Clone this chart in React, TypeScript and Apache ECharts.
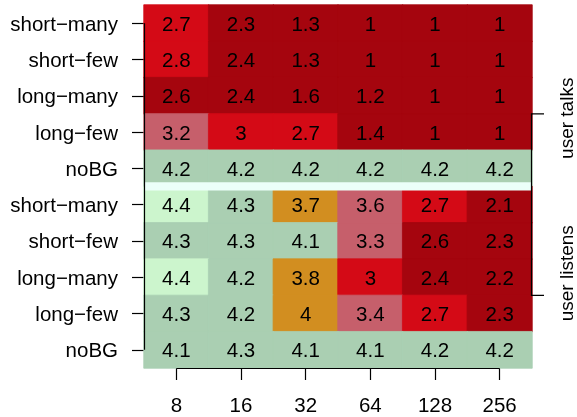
import React, { useEffect, useRef } from "react";
import * as echarts from "echarts";

const xCategories = ["8", "16", "32", "64", "128", "256"];
const yCategories = [
  "short−many", "short−few", "long−many", "long−few", "noBG",
  "short−many", "short−few", "long−many", "long−few", "noBG",
];

// user talks
const talksShortMany = [2.7, 2.3, 1.3, 1, 1, 1];
const talksShortFew = [2.8, 2.4, 1.3, 1, 1, 1];
const talksLongMany = [2.6, 2.4, 1.6, 1.2, 1, 1];
const talksLongFew = [3.2, 3, 2.7, 1.4, 1, 1];
const talksNoBG = [4.2, 4.2, 4.2, 4.2, 4.2, 4.2];
// user listens
const listensShortMany = [4.4, 4.3, 3.7, 3.6, 2.7, 2.1];
const listensShortFew = [4.3, 4.3, 4.1, 3.3, 2.6, 2.3];
const listensLongMany = [4.4, 4.2, 3.8, 3, 2.4, 2.2];
const listensLongFew = [4.3, 4.2, 4, 3.4, 2.7, 2.3];
const listensNoBG = [4.1, 4.3, 4.1, 4.1, 4.2, 4.2];

const groupLabels = ["user talks", "user listens"];

const colorBreaks = [2.65, 3.1, 3.65, 4.05, 4.35];
const colorSteps = ["#a5050e", "#d40a16", "#c65f6b", "#d28e20", "#aacfb2", "#ccf5cd"];

const FONT = '"Liberation Sans", Arial, Helvetica, sans-serif';

function colorFor(v: number): string {
  let i = 0;
  while (i < colorBreaks.length && v >= colorBreaks[i]) i++;
  return colorSteps[i];
}

export default function App() {
  const ref = useRef<HTMLDivElement>(null);

  useEffect(() => {
    if (!ref.current) return;
    document.body.style.margin = "0";
    const chart = echarts.init(ref.current, undefined, { renderer: "svg" });

    const rows = [
      talksShortMany, talksShortFew, talksLongMany, talksLongFew, talksNoBG,
      listensShortMany, listensShortFew, listensLongMany, listensLongFew, listensNoBG,
    ];
    const data: any[] = [];
    rows.forEach((row, yi) =>
      row.forEach((v, xi) => {
        const c = colorFor(v);
        data.push({ value: [xi, yi, v], itemStyle: { borderColor: c, borderWidth: 0.8 } });
      })
    );

    const pieces = colorSteps.map((color, i) => ({
      min: i === 0 ? 0 : colorBreaks[i - 1],
      max: i === colorSteps.length - 1 ? 5 : colorBreaks[i],
      color,
    }));

    const option: any = {
      animation: false,
      textStyle: { fontFamily: FONT },
      grid: { left: 144, right: 45, top: 5, bottom: 49 },
      visualMap: { type: "piecewise", show: false, dimension: 2, pieces },
      xAxis: {
        type: "category",
        data: xCategories,
        position: "bottom",
        axisLine: { show: false },
        axisTick: { show: true, alignWithLabel: true, length: 12, lineStyle: { color: "#000", width: 1.2 } },
        axisLabel: { margin: 26, fontSize: 20.5, color: "#000", fontFamily: FONT },
        splitLine: { show: false },
      },
      yAxis: {
        type: "category",
        data: yCategories,
        inverse: true,
        axisLine: { show: false },
        axisTick: { show: true, alignWithLabel: true, length: 12, lineStyle: { color: "#000", width: 1.2 } },
        axisLabel: { margin: 26, fontSize: 20.5, color: "#000", fontFamily: FONT },
        splitLine: { show: false },
      },
      series: [
        {
          type: "heatmap",
          data,
          label: {
            show: true,
            color: "#000",
            fontSize: 20.5,
            fontFamily: FONT,
            formatter: (p: any) => String(p.value[2]),
          },
          emphasis: { disabled: true },
        },
      ],
    };
    chart.setOption(option);

    const p0 = chart.convertToPixel({ xAxisIndex: 0, yAxisIndex: 0 }, [0, 0]) as number[];
    const pL = chart.convertToPixel({ xAxisIndex: 0, yAxisIndex: 0 }, [5, 9]) as number[];
    const cw = (pL[0] - p0[0]) / 5;
    const ch = (pL[1] - p0[1]) / 9;
    const left = p0[0] - cw / 2;
    const right = pL[0] + cw / 2;
    const bottom = pL[1] + ch / 2;
    const sepY = p0[1] + 4.5 * ch;
    const b1 = p0[1] + 2.5 * ch;
    const b2 = p0[1] + 7.5 * ch;

    chart.setOption({
      graphic: [
        {
          type: "rect", z: 100,
          shape: { x: left, y: sepY - 4.3, width: right - left, height: 8.3 },
          style: { fill: "#ebfff9" },
        },
        {
          type: "line", z: 101,
          shape: { x1: left + 0.5, y1: p0[1], x2: left + 0.5, y2: pL[1] },
          style: { stroke: "#000", lineWidth: 1.2 },
        },
        {
          type: "line", z: 101,
          shape: { x1: p0[0], y1: bottom + 0.5, x2: pL[0], y2: bottom + 0.5 },
          style: { stroke: "#000", lineWidth: 1.2 },
        },
        {
          type: "polyline", z: 101,
          shape: { points: [[right + 12, b1], [right - 0.5, b1], [right - 0.5, b2], [right + 12, b2]] },
          style: { stroke: "#000", lineWidth: 1.2, fill: "none" },
        },
        {
          type: "text", z: 101,
          x: 566, y: p0[1] + 2.62 * ch, rotation: Math.PI / 2,
          style: { text: groupLabels[0], fontSize: 19, fontFamily: FONT, fill: "#000", align: "center", verticalAlign: "middle" },
        },
        {
          type: "text", z: 101,
          x: 566, y: p0[1] + 6.89 * ch, rotation: Math.PI / 2,
          style: { text: groupLabels[1], fontSize: 19, fontFamily: FONT, fill: "#000", align: "center", verticalAlign: "middle" },
        },
      ],
    });

    return () => chart.dispose();
  }, []);

  return <div ref={ref} style={{ position: "fixed", left: 0, top: 0, width: 577, height: 417 }} />;
}
